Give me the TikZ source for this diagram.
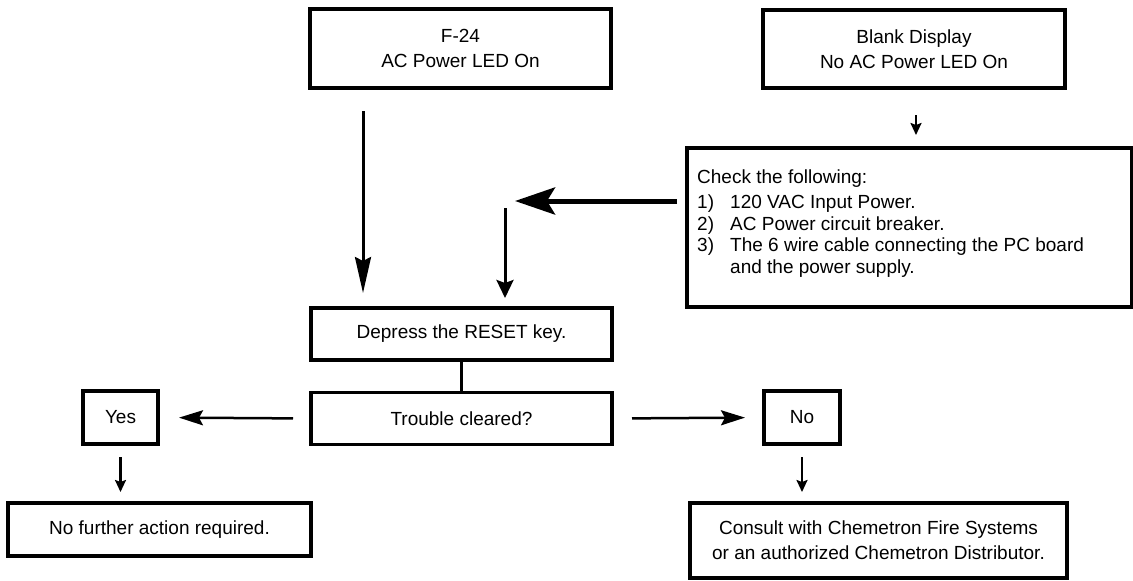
\documentclass[tikz,border=0pt]{standalone}
\usepackage{fontspec}
\setmainfont{Liberation Sans}
\usetikzlibrary{arrows.meta}
\begin{document}
\begin{tikzpicture}[x=1pt,y=-1pt,
  every node/.style={font=\fontsize{19}{25}\selectfont},
  box/.style={draw, line width=3.2pt, rectangle, inner sep=0pt, outer sep=0pt, align=center},
  txt/.style={inner sep=0pt, anchor=base west},
  arrowlong/.style={line width=3pt, -{Stealth[length=36pt,width=16pt,inset=4pt]}},
  arrowbig/.style={line width=5pt, -{Stealth[length=40pt,width=27pt,inset=8pt]}},
  arrowmid/.style={line width=3pt, -{Stealth[length=18pt,width=17pt,inset=3pt]}},
  arrowside/.style={line width=2.5pt, -{Stealth[length=24pt,width=15pt,inset=4pt]}},
  arrowsmall/.style={line width=2.2pt, -{Stealth[length=12pt,width=11pt,inset=2pt]}},
  link/.style={line width=3.2pt}]
\useasboundingbox (0,0) rectangle (1133,581);

% starting conditions
\node[box, minimum width=301pt, minimum height=79pt] (f24) at (460.5,48.5) {F-24\\AC Power LED On};
\node[box, minimum width=302pt, minimum height=78pt] (blank) at (914,49) {Blank Display\\No AC Power LED On};

% checklist
\node[box, minimum width=445pt, minimum height=159pt] (check) at (909.5,227.5) {};
\node[txt] (chkhead) at (697,183) {Check the following:};
\node[txt] (chk1) at (697,208) {\makebox[33pt][l]{1)}120 VAC Input Power.};
\node[txt] (chk2) at (697,230) {\makebox[33pt][l]{2)}AC Power circuit breaker.};
\node[txt] (chk3) at (697,251) {\makebox[33pt][l]{3)}The 6 wire cable connecting the PC board};
\node[txt] (chk4) at (730,273) {and the power supply.};

% reset and test
\node[box, minimum width=301pt, minimum height=52pt] (depress) at (461.5,334) {Depress the RESET key.};
\node[box, minimum width=301pt, minimum height=52pt] (trouble) at (461.5,418.5) {Trouble cleared?};

% outcomes
\node[box, minimum width=75pt, minimum height=53pt] (yes) at (120.5,417.5) {Yes};
\node[box, minimum width=76pt, minimum height=53pt] (no) at (802,417.5) {No};
\node[box, minimum width=303pt, minimum height=53pt] (nofurther) at (159.5,529.5) {No further action required.};
\node[box, minimum width=377pt, minimum height=75pt] (consult) at (878.5,540.5) {Consult with Chemetron Fire Systems\\or an authorized Chemetron Distributor.};

% connectors
\coordinate (f24out) at ([xshift=53pt]f24.south west);
\coordinate (junc) at (505,201);
\draw[arrowlong, shorten <=23pt, shorten >=15pt] (f24out) -- (f24out |- depress.north);
\draw[arrowsmall, shorten <=27pt, shorten >=13pt] ([xshift=2pt]blank.south) -- ([xshift=2pt]blank.south |- check.north);
\draw[arrowbig, shorten <=10pt, shorten >=10pt] (check.west |- junc) -- (junc);
\draw[arrowmid, shorten <=7pt, shorten >=10pt] (junc) -- (junc |- depress.north);
\draw[link] (depress.south) -- (trouble.north);
\draw[arrowside, shorten <=18pt, shorten >=21pt] (trouble.west) -- (yes.east);
\draw[arrowside, shorten <=20pt, shorten >=19pt] (trouble.east) -- (no.west);
\draw[arrowsmall, shorten <=13pt, shorten >=11pt] (yes.south) -- (yes.south |- nofurther.north);
\draw[arrowsmall, shorten <=13pt, shorten >=11pt] (no.south) -- (no.south |- consult.north);
\end{tikzpicture}
\end{document}
